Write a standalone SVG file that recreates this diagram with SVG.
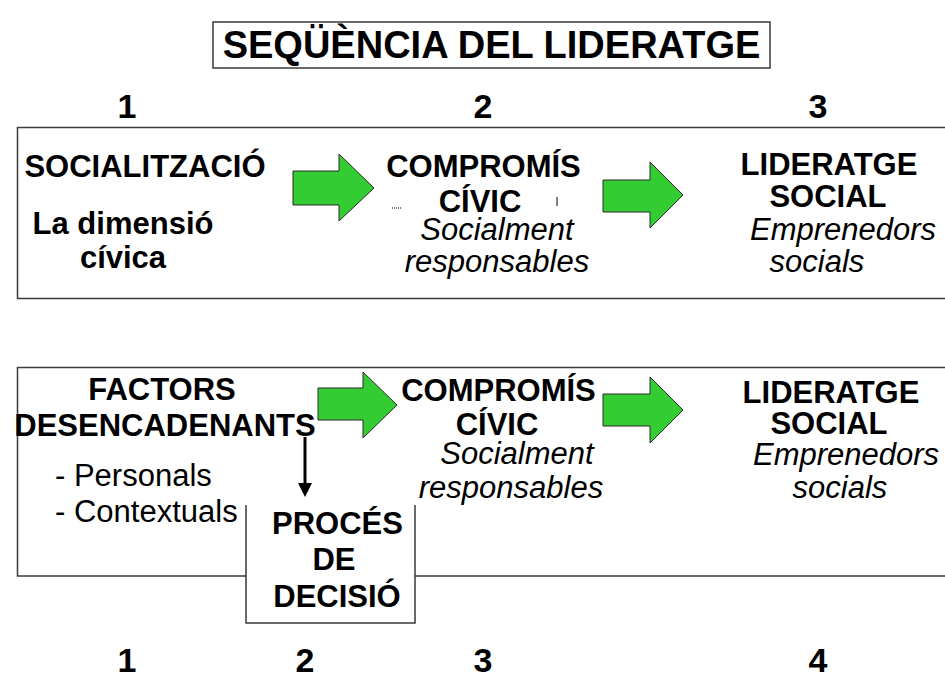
<svg xmlns="http://www.w3.org/2000/svg" width="945" height="675" viewBox="0 0 945 675">
<defs>
<style>
.t{font-family:"Liberation Sans",Arial,sans-serif;font-size:31px;fill:#000}
.n{font-size:34px}
.b{font-weight:bold}
.i{font-style:italic}
.m{text-anchor:middle}
.box{fill:none;stroke:#3a3a3a;stroke-width:1.5}
.ga{fill:#33cc33;stroke:#2a2a2a;stroke-width:1}
</style>
</defs>
<rect width="945" height="675" fill="#fff"/>
<g id="title">
<rect x="213" y="22" width="557" height="46" fill="#fff" stroke="#3a3a3a" stroke-width="1.5"/>
<text class="t b m" x="491.5" y="58" style="font-size:38px">SEQÜÈNCIA DEL LIDERATGE</text>
</g>
<g id="numbers-top">
<text class="t n b m" x="127" y="118">1</text>
<text class="t n b m" x="483" y="118">2</text>
<text class="t n b m" x="818" y="118">3</text>
</g>
<g id="box-top"><path class="box" d="M950,127.5 H17.5 V298.5 H950"/></g>
<g id="socialitzacio">
<text class="t b m" x="145" y="177">SOCIALITZACIÓ</text>
<text class="t b m" x="123" y="234">La dimensió</text>
<text class="t b m" x="123" y="268">cívica</text>
</g>
<g id="compromis-top">
<text class="t b m" x="483.5" y="177">COMPROMÍS</text>
<text class="t b m" x="480" y="212">CÍVIC</text>
<text class="t i m" x="497" y="240">Socialment</text>
<text class="t i m" x="497" y="272">responsables</text>
<line x1="392" y1="208" x2="402" y2="208" stroke="#000" stroke-width="1" stroke-dasharray="1,1"/>
<line x1="557" y1="197" x2="557" y2="206" stroke="#000" stroke-width="1"/>
</g>
<g id="lideratge-top">
<text class="t b m" x="829" y="175">LIDERATGE</text>
<text class="t b m" x="828" y="207">SOCIAL</text>
<text class="t i m" x="843" y="240">Emprenedors</text>
<text class="t i m" x="817" y="272">socials</text>
</g>
<g id="box-bottom"><path class="box" d="M950,367.5 H17.5 V576 H950"/></g>
<g id="factors">
<text class="t b m" x="162" y="400">FACTORS</text>
<text class="t b m" x="165" y="436">DESENCADENANTS</text>
<text class="t" x="55" y="486">- Personals</text>
<text class="t" x="55" y="522">- Contextuals</text>
</g>
<g id="proces">
<rect x="246" y="505" width="169" height="118" fill="#fff"/>
<path class="box" d="M246,505 V623 H415 V505"/>
<text class="t b m" x="337.5" y="534">PROCÉS</text>
<text class="t b m" x="334" y="570">DE</text>
<text class="t b m" x="337" y="607">DECISIÓ</text>
</g>
<g id="compromis-bottom">
<text class="t b m" x="498.5" y="401">COMPROMÍS</text>
<text class="t b m" x="497" y="435">CÍVIC</text>
<text class="t i m" x="517" y="464">Socialment</text>
<text class="t i m" x="511" y="498">responsables</text>
</g>
<g id="lideratge-bottom">
<text class="t b m" x="831" y="403">LIDERATGE</text>
<text class="t b m" x="829" y="434">SOCIAL</text>
<text class="t i m" x="846" y="465">Emprenedors</text>
<text class="t i m" x="840" y="498">socials</text>
</g>
<g id="connectors">
<polygon class="ga" points="293,171 339,171 339,154 374,188 339,221 339,205 293,205"/>
<polygon class="ga" points="603,180 650,180 650,162 683,195 650,228 650,212 603,212"/>
<polygon class="ga" points="318,388 363,388 363,372 397,405 363,438 363,420 318,420"/>
<polygon class="ga" points="603,394 650,394 650,377 683,410 650,443 650,426 603,426"/>
<line x1="305" y1="437" x2="305" y2="485" stroke="#000" stroke-width="3"/>
<polygon points="298,483 312,483 305,497" fill="#000"/>
</g>
<g id="numbers-bottom">
<text class="t n b m" x="127" y="672">1</text>
<text class="t n b m" x="305" y="672">2</text>
<text class="t n b m" x="483" y="672">3</text>
<text class="t n b m" x="818" y="672">4</text>
</g>
</svg>
